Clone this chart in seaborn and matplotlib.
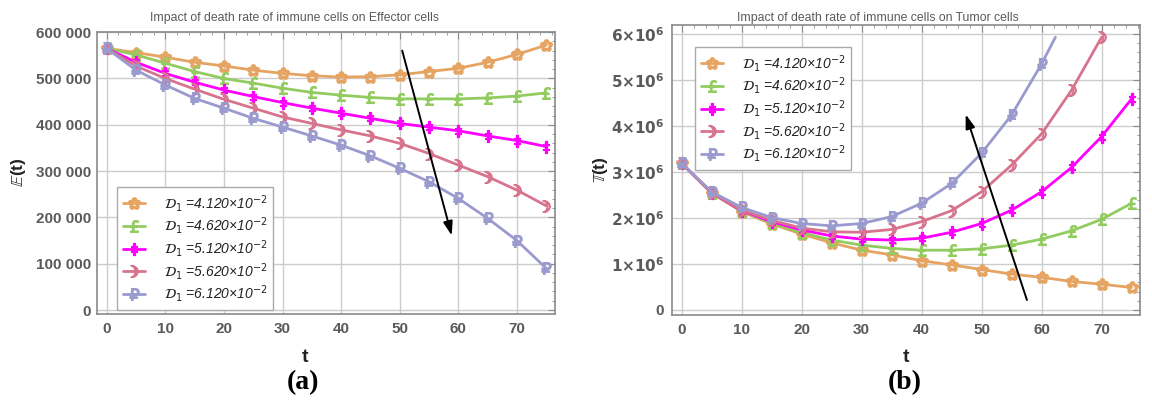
import numpy as np
import pandas as pd
import matplotlib
matplotlib.use("Agg")
import matplotlib.pyplot as plt
from matplotlib.ticker import MultipleLocator, FuncFormatter
import seaborn as sns

# ---------------- data ----------------
t = [0, 5, 10, 15, 20, 25, 30, 35, 40, 45, 50, 55, 60, 65, 70, 75]
labels = [r"$\mathcal{D}_1$ =4.120×10$^{-2}$",
          r"$\mathcal{D}_1$ =4.620×10$^{-2}$",
          r"$\mathcal{D}_1$ =5.120×10$^{-2}$",
          r"$\mathcal{D}_1$ =5.620×10$^{-2}$",
          r"$\mathcal{D}_1$ =6.120×10$^{-2}$"]

# Effector cells E(t)
E_412 = [565000, 556000, 546000, 535000, 527000, 518000, 511000, 506000, 503000, 504000, 508000, 515000, 522000, 535000, 552000, 572000]
E_462 = [565000, 551000, 533000, 515000, 500000, 490000, 479000, 470000, 464000, 459000, 456000, 456000, 456000, 458000, 462000, 469000]
E_512 = [565000, 535000, 511000, 492000, 475000, 461000, 448000, 436000, 425000, 414000, 403000, 395000, 387000, 376000, 366000, 353000]
E_562 = [565000, 527000, 500000, 477000, 455000, 436000, 417000, 403000, 389000, 376000, 360000, 338000, 313000, 288000, 259000, 225000]
E_612 = [565000, 518000, 486000, 457000, 436000, 414000, 395000, 376000, 356000, 333000, 306000, 277000, 241000, 198000, 150000, 90000]

# Tumor cells T(t)
T_412 = [3.19e6, 2.54e6, 2.14e6, 1.87e6, 1.65e6, 1.46e6, 1.30e6, 1.20e6, 1.07e6, 0.98e6, 0.88e6, 0.78e6, 0.71e6, 0.62e6, 0.56e6, 0.49e6]
T_462 = [3.19e6, 2.54e6, 2.16e6, 1.89e6, 1.68e6, 1.52e6, 1.41e6, 1.34e6, 1.30e6, 1.30e6, 1.33e6, 1.41e6, 1.54e6, 1.72e6, 1.97e6, 2.32e6]
T_512 = [3.19e6, 2.55e6, 2.16e6, 1.92e6, 1.74e6, 1.61e6, 1.54e6, 1.52e6, 1.56e6, 1.69e6, 1.88e6, 2.17e6, 2.57e6, 3.10e6, 3.77e6, 4.59e6]
t_562 = [0, 5, 10, 15, 20, 25, 30, 35, 40, 45, 50, 55, 60, 65, 70]
T_562 = [3.19e6, 2.55e6, 2.17e6, 1.95e6, 1.78e6, 1.70e6, 1.69e6, 1.75e6, 1.92e6, 2.16e6, 2.57e6, 3.15e6, 3.83e6, 4.78e6, 5.93e6]
t_612 = [0, 5, 10, 15, 20, 25, 30, 35, 40, 45, 50, 55, 60, 62.3]
T_612 = [3.19e6, 2.57e6, 2.23e6, 2.01e6, 1.88e6, 1.83e6, 1.88e6, 2.03e6, 2.32e6, 2.75e6, 3.41e6, 4.24e6, 5.35e6, 5.93e6]

colors = ["#E6A462", "#92CC60", "#FF00FF", "#D8738E", "#9A9ACF"]
markers = ["$\u273F$", "$\u00A3$", r"$\ddagger$", "$\u263D$", "$\u20BD$"]

sns.set_style("white")
plt.rcParams["font.family"] = ["Liberation Sans", "DejaVu Sans"]
plt.rcParams["mathtext.fontset"] = "dejavusans"

W, H = 1152, 404
fig = plt.figure(figsize=(W / 100, H / 100), dpi=100)

def px_axes(x0, y0, x1, y1):
    return fig.add_axes([x0 / W, 1 - y1 / H, (x1 - x0) / W, (y1 - y0) / H])

axL = px_axes(97, 32, 555, 314)
axR = px_axes(672, 25, 1140, 315)

gray_text = "#5a5a5a"
frame_col = "#8a8a8a"

def style_axes(ax, ymajor, yminor, ypad):
    ax.xaxis.set_major_locator(MultipleLocator(10))
    ax.xaxis.set_minor_locator(MultipleLocator(2))
    ax.yaxis.set_major_locator(MultipleLocator(ymajor))
    ax.yaxis.set_minor_locator(MultipleLocator(yminor))
    ax.grid(True, which="major", color="#cccccc", linewidth=1.0)
    ax.set_axisbelow(True)
    ax.tick_params(which="both", direction="in", top=True, right=True,
                   colors=frame_col, labelcolor=gray_text)
    ax.tick_params(which="major", length=5, width=0.8, labelsize=11)
    ax.tick_params(which="minor", length=2.5, width=0.6)
    ax.tick_params(axis="y", pad=ypad)
    ax.tick_params(axis="x", pad=6)
    for s in ax.spines.values():
        s.set_color(frame_col)
        s.set_linewidth(1.2)

def draw(ax, xs_list, ys_list):
    for xs, ys, c, m, lab in zip(xs_list, ys_list, colors, markers, labels):
        df = pd.DataFrame({"t": xs, "v": ys})
        nmark = [i for i, x in enumerate(xs) if float(x).is_integer() and int(x) % 5 == 0]
        sns.lineplot(data=df, x="t", y="v", ax=ax, color=c, marker=m,
                     markersize=8.5, markeredgewidth=0.9, markeredgecolor=c,
                     markevery=nmark, linewidth=2.0, sort=False,
                     estimator=None, label=lab, legend=False)

# ---- left panel ----
draw(axL, [t] * 5, [E_412, E_462, E_512, E_562, E_612])
axL.set_xlim(-1.66, 76.5)
axL.set_ylim(-8600, 600400)
style_axes(axL, 100000, 20000, 4.5)
axL.yaxis.set_major_formatter(FuncFormatter(
    lambda v, p: f"{int(round(v)):,}".replace(",", " ")))
axL.set_xlabel("")
axL.set_ylabel("")
axL.annotate("", xy=(59.0, 155000), xytext=(50.3, 566000),
             arrowprops=dict(arrowstyle="-|>,head_length=0.6,head_width=0.2",
                             color="black", lw=1.4, mutation_scale=14))

# ---- right panel ----
draw(axR, [t, t, t, t_562, t_612], [T_412, T_462, T_512, T_562, T_612])
axR.set_xlim(-1.6, 76.4)
axR.set_ylim(-0.109e6, 6.196e6)
style_axes(axR, 1e6, 0.2e6, 5.5)

def sci_fmt(v, p):
    n = int(round(v / 1e6))
    if n == 0:
        return "0"
    return r"$\mathbf{%d{\times}10^{6}}$" % n

axR.yaxis.set_major_formatter(FuncFormatter(sci_fmt))
axR.set_xlabel("")
axR.set_ylabel("")
axR.annotate("", xy=(47.2, 4.31e6), xytext=(57.7, 0.16e6),
             arrowprops=dict(arrowstyle="-|>,head_length=0.6,head_width=0.2",
                             color="black", lw=1.4, mutation_scale=14))

for ax in (axL, axR):
    for lab in ax.get_xticklabels() + ax.get_yticklabels():
        lab.set_fontweight("bold")

# legends
leg_kw = dict(frameon=True, fancybox=False, framealpha=1.0, edgecolor="#aaaaaa",
              prop={"size": 10, "style": "italic"}, handlelength=1.6,
              handletextpad=1.4, labelspacing=0.12, borderpad=0.4,
              borderaxespad=0.0)
hL, lL = axL.get_legend_handles_labels()
legL = axL.legend(hL, lL, loc="upper left",
                  bbox_to_anchor=((117 - 97) / (555 - 97), 1 - (187 - 32) / (314 - 32)),
                  **leg_kw)
hR, lR = axR.get_legend_handles_labels()
legR = axR.legend(hR, lR, loc="upper left",
                  bbox_to_anchor=((695 - 672) / (1140 - 672), 1 - (47 - 25) / (315 - 25)),
                  **leg_kw)
for leg in (legL, legR):
    leg.get_frame().set_linewidth(1.0)
    for txt in leg.get_texts():
        txt.set_color("#222222")

# titles
fig.text(294 / W, 1 - 18 / H, "Impact of death rate of immune cells on Effector cells",
         ha="center", va="center", fontsize=8.8, color=gray_text)
fig.text(878 / W, 1 - 18 / H, "Impact of death rate of immune cells on Tumor cells",
         ha="center", va="center", fontsize=8.8, color=gray_text)

# axis labels
fig.text(18 / W, 1 - 172 / H, r"$\mathbb{E}$(t)", rotation=90, ha="center", va="center",
         fontsize=12.5, fontweight="bold", color="#222222")
fig.text(600 / W, 1 - 170 / H, r"$\mathbb{T}$(t)", rotation=90, ha="center", va="center",
         fontsize=12.5, fontweight="bold", color="#222222")
fig.text(305 / W, 1 - 358 / H, "t", ha="center", va="center",
         fontsize=14, fontweight="bold", color="#222222")
fig.text(906 / W, 1 - 358 / H, "t", ha="center", va="center",
         fontsize=14, fontweight="bold", color="#222222")

# sub-captions
fig.text(303 / W, 1 - 383 / H, "(a)", ha="center", va="center",
         fontsize=20, fontweight="bold", family="Liberation Serif", color="black")
fig.text(905 / W, 1 - 383 / H, "(b)", ha="center", va="center",
         fontsize=20, fontweight="bold", family="Liberation Serif", color="black")

fig.savefig("out.png", dpi=100, facecolor="white")
